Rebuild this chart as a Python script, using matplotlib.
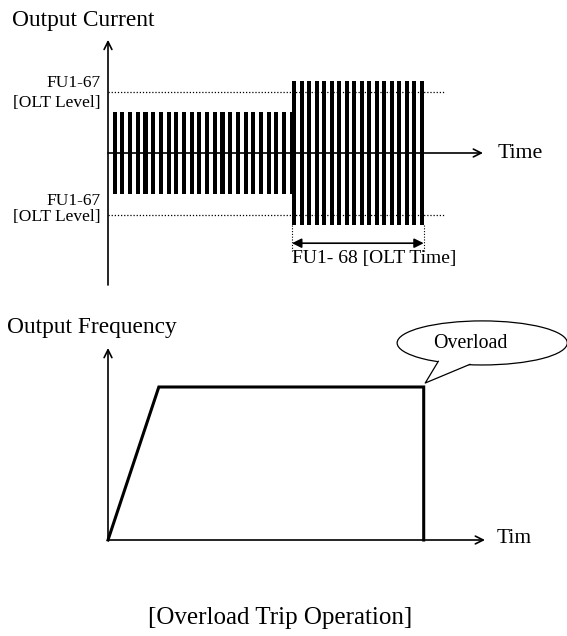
import numpy as np
import matplotlib
matplotlib.use("Agg")
import matplotlib.pyplot as plt
from matplotlib.patches import Ellipse, Polygon

plt.rcParams['font.family'] = ['Liberation Serif', 'DejaVu Serif']

# --- data -------------------------------------------------------------
# top: output current (pulse train), amplitudes relative to rated current
normal_amp = 1.0
overload_amp = 1.75
olt_level = 1.5            # FU1-67 [OLT Level]
n_normal_pulses = 24
n_overload_pulses = 18
normal_start = 0.6
overload_start = 23.9      # start of overload / FU1-68 timer
trip_time = 41.0           # end of FU1-68 [OLT Time]
pulse_width = 0.53

# bottom: output frequency
freq_time = [0, 6.6, 41.0, 41.0]
freq_value = [0, 1.0, 1.0, 0]

# --- figure -----------------------------------------------------------
W, H = 567, 636
fig = plt.figure(figsize=(W / 100, H / 100), dpi=100)
px = 7.7  # pixels per time unit, shared by both panels
xlim = (-108 / px, (W - 108) / px)

ax1 = fig.add_axes([0, 336 / H, 1, 300 / H])
ax1.set_xlim(*xlim)
ax1.set_ylim(-147 / 41, 153 / 41)
ax1.axis('off')

ax2 = fig.add_axes([0, 0, 1, 336 / H])
ax2.set_xlim(*xlim)
ax2.set_ylim(-96 / 153, 240 / 153)
ax2.axis('off')

arrow = dict(arrowstyle='->', lw=1.2, color='black', shrinkA=0, shrinkB=0,
             mutation_scale=14)

# top panel ------------------------------------------------------------
normal_t = np.linspace(normal_start, overload_start - 0.3, n_normal_pulses)
over_t = np.linspace(overload_start, trip_time - pulse_width, n_overload_pulses)
ax1.bar(normal_t, 2 * normal_amp, bottom=-normal_amp, width=pulse_width,
        align='edge', color='black', zorder=2)
ax1.bar(over_t, 2 * overload_amp, bottom=-overload_amp, width=pulse_width,
        align='edge', color='black', zorder=2)

# label offsets (above / below each level line)
for lvl, up, down in ((olt_level, 0.2, -0.29), (-olt_level, 0.32, -0.05)):
    ax1.plot([0, 43.8], [lvl, lvl], color='black', lw=0.9, ls=(0, (1, 1.5)),
             zorder=1)
    ax1.text(-1.0, lvl + up, "FU1-67", ha='right', va='center', fontsize=12.5)
    ax1.text(-1.0, lvl + down, "[OLT Level]", ha='right', va='center',
             fontsize=12.5)

ax1.annotate('', xy=(0, 2.76), xytext=(0, -3.22), arrowprops=arrow)
ax1.annotate('', xy=(48.7, 0), xytext=(0, 0), arrowprops=arrow)
ax1.text(50.6, 0, "Time", ha='left', va='center', fontsize=15.7)
ax1.text(-12.5, 3.22, "Output Current", ha='left', va='center', fontsize=16.8)

for t in (overload_start, trip_time):
    ax1.plot([t, t], [-overload_amp, -2.41], color='black', lw=0.8,
             ls=(0, (1, 1.5)))
ax1.annotate('', xy=(trip_time, -2.2), xytext=(overload_start, -2.2),
             arrowprops=dict(arrowstyle='<|-|>', lw=1.2, color='black',
                             shrinkA=0, shrinkB=0, mutation_scale=14))
ax1.text(overload_start, -2.58, "FU1- 68 [OLT Time]", ha='left',
         va='center', fontsize=14)

# bottom panel ---------------------------------------------------------
ax2.plot(freq_time, freq_value, color='black', lw=2.2, solid_joinstyle='miter',
         zorder=3)
ax2.annotate('', xy=(0, 1.255), xytext=(0, 0), arrowprops=arrow)
ax2.annotate('', xy=(48.96, 0), xytext=(0, 0), arrowprops=arrow)
ax2.text(50.5, 0.01, "Tim", ha='left', va='center', fontsize=15.5)
ax2.text(-13.1, 1.386, "Output Frequency", ha='left', va='center',
         fontsize=16.8)

# callout bubble
ex, ey, ew, eh = 48.6, 1.288, 22.1, 0.288
ax2.add_patch(Ellipse((ex, ey), ew, eh, facecolor='white', edgecolor='black',
                      lw=0.9, zorder=4))
tail = [(42.6, 1.19), (42.9, 1.168), (trip_time + 0.2, 1.026),
        (47.0, 1.148), (47.3, 1.17)]
ax2.add_patch(Polygon(tail, closed=True, facecolor='white', edgecolor='none',
                      zorder=5))
ax2.plot([42.9, trip_time + 0.2, 47.0], [1.168, 1.026, 1.148], color='black',
         lw=0.9, zorder=6)
ax2.text(47.1, 1.285, "Overload", ha='center', va='center', fontsize=14.3,
         zorder=7)

fig.text(280 / W, 1 - 618 / H, "[Overload Trip Operation]", ha='center',
         va='center', fontsize=18)

fig.savefig("out.png", dpi=100)
